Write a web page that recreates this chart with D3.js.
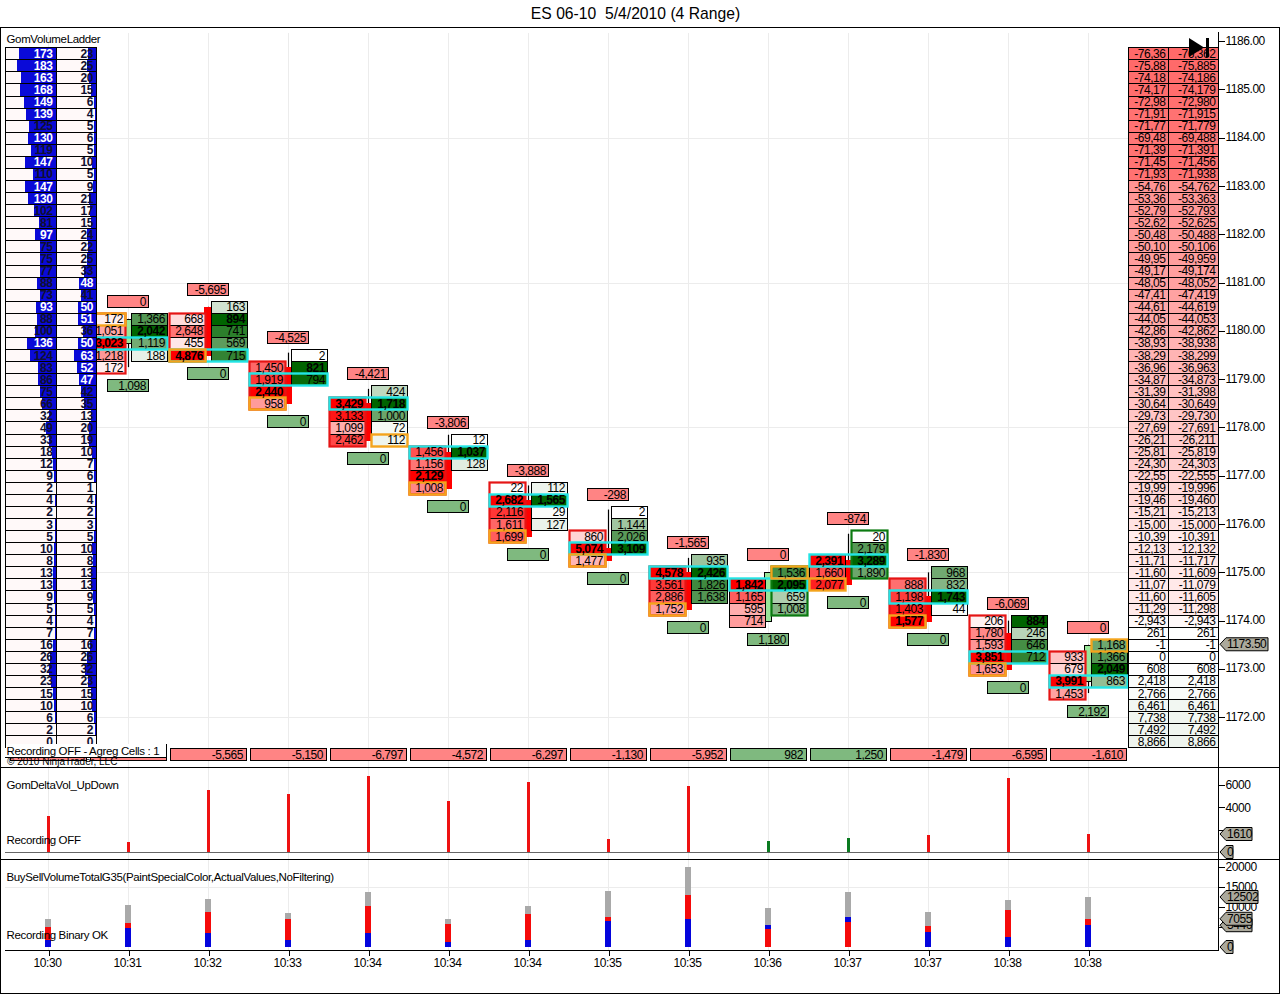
<!DOCTYPE html>
<html>
<head>
<meta charset="utf-8">
<title>ES 06-10</title>
<script src="https://cdn.jsdelivr.net/npm/d3@7"></script>
<style>
  html, body { margin: 0; padding: 0; background: #fff; }
  svg { display: block; }
  text { font-family: "Liberation Sans", Arial, sans-serif; font-size: 12px; letter-spacing: -.45px; fill: #000; }
  rect { shape-rendering: crispEdges; }
  rect.mark { shape-rendering: auto; }
  .tick line { stroke: #000; shape-rendering: crispEdges; }
  .pane-label text { font-size: 11.5px; letter-spacing: -.35px; }
</style>
</head>
<body>
<svg class="vis" width="1280" height="994"></svg>
<script>
// volume ladder, rows from 1185.75 down to 1171.50
const ladderTop = 1185.75;
const ladderBid = [173,183,163,168,149,139,125,130,119,147,110,147,130,102,81,97,75,75,77,88,73,93,88,100,136,124,83,86,75,66,32,49,33,18,12,9,2,4,2,3,5,10,8,13,13,9,5,4,7,16,26,32,23,15,10,6,2,0];
const ladderAsk = [23,25,20,15,6,4,5,6,5,10,5,9,21,17,15,24,22,25,33,48,41,50,51,36,50,63,52,47,42,35,13,20,19,10,7,6,1,4,2,3,5,10,8,13,13,9,5,4,7,16,26,32,23,15,10,6,2,0];
const ladderBidWhite = [0,1,2,3,4,5,7,9,11,12,15,21,24];
const ladderAskWhite = [19,21,22,24,25,26,27];

// cumulative delta ladder, same rows
const cumDelta = [-76362,-75885,-74186,-74179,-72980,-71915,-71779,-69488,-71391,-71456,-71938,-54762,-53363,-52793,-52625,-50488,-50106,-49959,-49174,-48052,-47419,-44619,-44053,-42862,-38938,-38299,-36963,-34873,-31398,-30649,-29730,-27691,-26211,-25819,-24303,-22555,-19996,-19460,-15213,-15000,-10391,-12132,-11717,-11609,-11079,-11605,-11298,-2943,261,-1,0,608,2418,2766,6461,7738,7492,8866];

// time axis
const timeLabels = ['10:30','10:31','10:32','10:33','10:34','10:34','10:34','10:35','10:35','10:36','10:37','10:37','10:38','10:38'];

// footprint bars, index 1..13 (bar 0 sits behind the ladder)
const barIndex = [1,2,3,4,5,6,7,8,9,10,11,12,13];
const bidTop = [1180.25,1180.25,1179.25,1178.5,1177.5,1176.75,1175.75,1175,1174.75,1175.25,1174.75,1174,1173.25];
const bidVols = [[172,1051,3023,1218,172],[668,2648,455,4876],[1450,1919,2440,958],[3429,3133,1099,2462],[1456,1156,2129,1008],[22,2682,2116,1611,1699],[860,5074,1477],[4578,3561,2886,1752],[1842,1165,595,714],[2391,1660,2077],[888,1198,1403,1577],[206,1780,1593,3851,1653],[933,679,3991,1453]];
const askTop = [1180.25,1180.5,1179.5,1178.75,1177.75,1176.75,1176.25,1175.25,1175,1175.75,1175,1174,1173.5];
const askVols = [[1366,2042,1119,188],[163,894,741,569,715],[2,821,794],[424,1718,1000,72,112],[12,1037,128],[112,1565,29,127],[2,1144,2026,3109],[935,2426,1826,1638],[1536,2095,659,1008],[20,2179,3289,1890],[968,832,1743,44],[884,246,646,712],[1168,1366,2049,863]];
const pocPrice = [1179.75,1179.5,1179,1178.5,1177.5,1176.5,1175.5,1175,1174.75,1175.25,1174.5,1173.25,1172.75];
const lastSide = ['bid','bid','bid','ask','bid','bid','bid','bid','ask','bid','bid','bid','ask'];
const lastPrice = [1180.25,1179.5,1178.5,1177.75,1176.75,1175.75,1175.25,1174.25,1175,1174.75,1174,1173,1173.5];
const opens = [1179.75,1180.5,1179.25,1178.5,1177.5,1176.5,1175.5,1175,1174,1175.25,1174.5,1173.75,1172.75];
const closes = [1180.25,1179.5,1178.5,1177.75,1176.75,1175.75,1175.25,1174.25,1175,1174.75,1174,1173,1173.5];
const highs = [1180.25,1180.5,1179.55,1178.8,1177.85,1176.8,1176.3,1175.3,1175,1175.8,1175,1174,1173.5];
const lows = [1179.25,1179.5,1178.5,1177.75,1176.75,1175.75,1175.25,1174.25,1174,1174.75,1174,1173,1172.5];
const bidOutlined = [true,true,true,true,true,true,true,true,false,false,true,true,true];
const askOutlined = [false,false,false,false,false,false,false,false,true,true,false,false,false];
const topLabels = [0,-5695,-4525,-4421,-3806,-3888,-298,-1565,0,-874,-1830,-6069,0];
const bottomLabels = [1098,0,0,0,0,0,0,0,1180,0,0,0,2192];

// per bar totals, index 0..13
const barDelta = [-3223,-927,-5565,-5150,-6797,-4572,-6297,-1130,-5952,982,1250,-1479,-6595,-1610];
const volTotal = [7000,10500,12000,8500,13750,7000,10250,14000,20000,9750,13750,8750,11750,12502];
const volSell = [5080,5900,8830,7080,10300,5750,8250,7500,13000,4500,6170,5330,9250,7055];
const volBuy = [1750,4800,3400,1750,3580,1330,1750,6420,6920,5500,7500,3750,2500,5446];

// axes
const priceTicks = [1186,1185,1184,1183,1182,1181,1180,1179,1178,1177,1176,1175,1174,1173,1172];
const priceGrid = [1184,1181,1178,1175,1172];
const deltaTicks = [2000,4000,6000];
const volTicks = [5000,10000,15000,20000];
const lastMarket = 1173.5;

const v = {

    sizes : {

        w : 1280,
        h : 994,
        axisX : 1218.5,
        paneTop : 27.5,
        pane2 : 767.5,
        pane3 : 859.5,
        bottom : 950.5,
        row : 12

    },

    colors : {

        red : '#ff0000',
        green : '#006400',
        blue : '#0a0ad8',
        cyan : '#22e4e4',
        orange : '#f4a41c',
        outlineRed : '#e51414',
        outlineGreen : '#0a7a10',
        labelRed : '#ff8484',
        labelGreen : '#7fb97f',
        tag : '#aba99c',
        grid : '#ececec',
        snow : '#fff9f9'

    },

    scales : {

        x : d3.scaleLinear().domain([0, 13]).range([48, 1088]),
        y : d3.scaleLinear().domain([1186, 1172]).range([41.2, 717.2]),
        yDelta : d3.scaleLinear().domain([0, 6000]).range([852, 785]),
        yVol : d3.scaleLinear().domain([0, 20000]).range([947, 867]),
        wBid : d3.scaleLinear().domain([0, 183]).range([0, 39]),
        wAsk : d3.scaleLinear().domain([0, 63]).range([0, 22.5]),
        fillBid : d3.scaleLinear().domain([0, 1]).range(['#ffffff', '#ff0000']),
        fillAsk : d3.scaleLinear().domain([0, 1]).range(['#ffffff', '#006400'])

    },

    // ninja prints a plain hyphen, not the d3 minus
    fmt : d3.formatLocale({ decimal : '.', thousands : ',', grouping : [3], currency : ['', ''], minus : '-' }).format(','),

    svg : d3.select('svg.vis'),

    // top edge of the row of a price, rows are not all the same pixel height
    edge : p => Math.round(v.scales.y(p) - 6.035) + .5,

    box : (g, x, y, w, h, fill, stroke, sw) => {

        return g.append('rect')
          .attr('x', x).attr('y', y)
          .attr('width', w).attr('height', h)
          .attr('fill', fill)
          .attr('stroke', stroke)
          .attr('stroke-width', sw || 1);

    },

    label : (g, x, y, txt, opts) => {

        opts = opts || {};
        return g.append('text')
          .attr('x', x).attr('y', y)
          .attr('text-anchor', opts.anchor || 'end')
          .style('font-weight', opts.bold ? 'bold' : 'normal')
          .style('fill', opts.fill || '#000')
          .style('font-size', opts.size || null)
          .style('letter-spacing', opts.spacing || null)
          .text(txt);

    },

    tag : (g, y, right, txt) => {

        const left = v.sizes.axisX + 1.5;
        g.append('path')
          .attr('d', `M${left},${y} L${left + 6},${y - 6.5} H${right} V${y + 6.5} H${left + 6} Z`)
          .attr('fill', v.colors.tag)
          .attr('stroke', '#000');
        v.label(g, left + 7, y + 4, txt, { anchor : 'start' });

    },

    draw : {

        grid : () => {

            const s = v.sizes, g = v.svg.append('g').attr('class', 'grid');

            g.selectAll('line.gx')
              .data(d3.range(14))
              .join('line')
              .attr('x1', d => v.scales.x(d) + .5).attr('x2', d => v.scales.x(d) + .5)
              .attr('y1', 33).attr('y2', s.bottom)
              .attr('stroke', v.colors.grid);

            g.selectAll('line.gy')
              .data(priceGrid)
              .join('line')
              .attr('x1', 5).attr('x2', s.axisX)
              .attr('y1', d => Math.round(v.scales.y(d)) + .5).attr('y2', d => Math.round(v.scales.y(d)) + .5)
              .attr('stroke', v.colors.grid);

            g.append('line')
              .attr('x1', 5).attr('x2', s.axisX)
              .attr('y1', v.scales.yVol(15000) + .5).attr('y2', v.scales.yVol(15000) + .5)
              .attr('stroke', v.colors.grid);

        },

        footprint : () => {

            const g = v.svg.append('g').attr('class', 'footprint');
            const sc = v.scales, c = v.colors, rh = v.sizes.row;
            const rowY = p => Math.round(sc.y(p));

            barIndex.forEach((b, i) => {

                const X = sc.x(b);
                const bx = X - 38.5, ax = X + 3.5, cw = 36;

                // candle
                g.append('line')
                  .attr('x1', X + .5).attr('x2', X + .5)
                  .attr('y1', sc.y(highs[i])).attr('y2', sc.y(lows[i]))
                  .attr('stroke', '#000').attr('stroke-width', 1.2);

                const up = closes[i] > opens[i];
                const t = rowY(Math.max(opens[i], closes[i])), bt = rowY(Math.min(opens[i], closes[i]));
                v.box(g, X - 3.5, t, 7, bt - t, up ? '#99e699' : c.red, up ? '#000' : c.red);

                // cell fills first, text goes on top of the outlines
                const texts = [];
                const cells = (top, vols, x, fill) => {
                    const mx = d3.max(vols);
                    vols.forEach((d, k) => {
                        const p = top - k * .25, y0 = v.edge(p), y1 = v.edge(p - .25);
                        v.box(g, x, y0, cw, y1 - y0, fill(d / mx), '#000');
                        texts.push([x + cw - 2.5, sc.y(p) + 4.5, v.fmt(d), d === mx]);
                    });
                };

                cells(bidTop[i], bidVols[i], bx, sc.fillBid);
                cells(askTop[i], askVols[i], ax, sc.fillAsk);

                // outlines
                const stack = (top, vols, x, col) => {
                    const y0 = v.edge(top), y1 = v.edge(top - vols.length * .25);
                    v.box(g, x, y0, cw, y1 - y0, 'none', col, 2.2).attr('class', 'mark');
                };
                if (bidOutlined[i]) stack(bidTop[i], bidVols[i], bx, c.outlineRed);
                if (askOutlined[i]) stack(askTop[i], askVols[i], ax, c.outlineGreen);

                const py0 = v.edge(pocPrice[i]), py1 = v.edge(pocPrice[i] - .25);
                v.box(g, bx, py0, ax + cw - bx, py1 - py0, 'none', c.cyan, 2.4).attr('class', 'mark');

                const ly0 = v.edge(lastPrice[i]), ly1 = v.edge(lastPrice[i] - .25);
                v.box(g, lastSide[i] === 'bid' ? bx : ax, ly0, cw, ly1 - ly0, 'none', c.orange, 2.4).attr('class', 'mark');

                texts.forEach(t => v.label(g, t[0], t[1], t[2], { bold : t[3] }));

                // top and bottom labels
                const hiRow = rowY(Math.max(bidTop[i], askTop[i]));
                const loRow = rowY(Math.min(bidTop[i] - (bidVols[i].length - 1) * .25, askTop[i] - (askVols[i].length - 1) * .25));
                const lx = X - 20.5;

                [[hiRow - 18, topLabels[i], c.labelRed], [loRow + 18, bottomLabels[i], c.labelGreen]].forEach(l => {
                    v.box(g, lx, l[0] - 5.5, 41, rh, l[2], '#000');
                    v.label(g, lx + 38.5, l[0] + 4.5, v.fmt(l[1]));
                });

            });

        },

        deltaRow : () => {

            const g = v.svg.append('g').attr('class', 'delta-row');

            barDelta.forEach((d, i) => {
                const X = v.scales.x(i);
                v.box(g, X - 37.5, 748.5, 76, 12, d < 0 ? v.colors.labelRed : v.colors.labelGreen, '#000');
                // first two totals are hidden by the recording box
                if (i > 1) v.label(g, X + 35, 758.5, v.fmt(d));
            });

        },

        ladder : () => {

            const g = v.svg.append('g').attr('class', 'ladder');
            const sc = v.scales, c = v.colors;

            ladderBid.forEach((d, i) => {

                const p = ladderTop - i * .25;
                const y0 = v.edge(p), y1 = v.edge(p - .25), h = y1 - y0;
                const wb = sc.wBid(d), wa = sc.wAsk(ladderAsk[i]);

                v.box(g, 5.5, y0, 50.5, h, c.snow, '#000');
                v.box(g, 56, y0, 40, h, c.snow, '#000');
                g.append('rect').attr('x', 56 - wb).attr('y', y0 + .5).attr('width', wb).attr('height', h - 1).attr('fill', c.blue);
                g.append('rect').attr('x', 96 - wa).attr('y', y0 + .5).attr('width', wa).attr('height', h - 1).attr('fill', c.blue);

                v.label(g, 52.5, sc.y(p) + 4.5, d, { bold : true, fill : ladderBidWhite.includes(i) ? '#fff' : '#101030' });
                v.label(g, 93, sc.y(p) + 4.5, ladderAsk[i], { bold : true, fill : ladderAskWhite.includes(i) ? '#fff' : '#101030' });

            });

        },

        cumLadder : () => {

            const g = v.svg.append('g').attr('class', 'cum-ladder');
            const sc = v.scales;
            const mix = d => d < 0 ? sc.fillBid(-d / 130000) : sc.fillAsk(d / 130000);

            cumDelta.forEach((d, i) => {

                const p = ladderTop - i * .25;
                const y0 = v.edge(p), h = v.edge(p - .25) - y0;
                const txt = v.fmt(d);

                v.box(g, 1128.5, y0, 40, h, mix(d), '#000');
                v.box(g, 1168.5, y0, 50, h, mix(d), '#000');
                v.label(g, 1165.5, sc.y(p) + 4.5, txt.slice(0, 6));
                v.label(g, 1215.5, sc.y(p) + 4.5, txt);

            });

            // end of data marker
            g.append('path').attr('d', 'M1189,38 L1204,47.5 L1189,57 Z').attr('fill', '#000');
            g.append('rect').attr('x', 1206).attr('y', 38).attr('width', 3).attr('height', 19).attr('fill', '#000');

        },

        lower : () => {

            const g = v.svg.append('g').attr('class', 'lower');
            const sc = v.scales, s = v.sizes;

            // delta pane
            g.append('line')
              .attr('x1', 5).attr('x2', s.axisX).attr('y1', 852.5).attr('y2', 852.5)
              .attr('stroke', '#666');

            g.selectAll('rect.dv')
              .data(barDelta)
              .join('rect')
              .attr('class', 'dv')
              .attr('x', (d, i) => sc.x(i) - 1)
              .attr('width', 3)
              .attr('y', d => sc.yDelta(Math.abs(d)))
              .attr('height', d => sc.yDelta(0) - sc.yDelta(Math.abs(d)))
              .attr('fill', d => d < 0 ? '#ee1111' : '#0a7a20');

            // buy sell pane
            volTotal.forEach((t, i) => {
                const X = sc.x(i) - 3;
                const parts = [[t, '#a9a9a9'], [volSell[i], '#f50a0a'], [volBuy[i], '#0404dc']]
                  .sort((a, b) => b[0] - a[0]);
                parts.forEach(p => {
                    g.append('rect')
                      .attr('x', X).attr('width', 6)
                      .attr('y', sc.yVol(p[0]))
                      .attr('height', sc.yVol(0) - sc.yVol(p[0]))
                      .attr('fill', p[1]);
                });
            });

        },

        axes : () => {

            const s = v.sizes, sc = v.scales;
            const g = v.svg.append('g').attr('class', 'axes');

            const right = (scale, vals, fmt, dy) => {
                g.append('g')
                  .attr('transform', `translate(${s.axisX},0)`)
                  .call(d3.axisRight(scale).tickValues(vals).tickFormat(fmt).tickSize(6).tickPadding(1))
                  .call(a => a.select('.domain').remove())
                  .call(a => a.selectAll('text').attr('dy', dy))
                  .attr('font-family', null).attr('font-size', null);
            };

            right(sc.y, priceTicks, d3.format('.2f'), '.25em');
            right(sc.yDelta, deltaTicks, d => d === 2000 ? '' : d, '.32em');
            right(sc.yVol, volTicks, d => d === 5000 ? '' : d, '.32em');

            g.append('g')
              .attr('transform', `translate(-1,${s.bottom})`)
              .call(d3.axisBottom(sc.x).tickValues(d3.range(14)).tickFormat(i => timeLabels[i]).tickSize(5).tickPadding(3))
              .call(a => a.select('.domain').remove())
              .call(a => a.selectAll('line').attr('x1', 1.5).attr('x2', 1.5))
              .attr('font-family', null).attr('font-size', null);

            // pane frame
            const lines = [
                [0, s.paneTop, v.sizes.w, s.paneTop],
                [0, s.pane2, v.sizes.w, s.pane2],
                [0, s.pane3, v.sizes.w, s.pane3],
                [5, s.bottom, s.axisX, s.bottom],
                [s.axisX, 32, s.axisX, s.bottom],
                [.5, s.paneTop, .5, 993.5],
                [1279.5, s.paneTop, 1279.5, 993.5],
                [0, 993.5, v.sizes.w, 993.5]
            ];
            g.selectAll('line.frame')
              .data(lines)
              .join('line')
              .attr('class', 'frame')
              .attr('x1', d => d[0]).attr('y1', d => d[1])
              .attr('x2', d => d[2]).attr('y2', d => d[3])
              .attr('stroke', '#000')
              .attr('shape-rendering', 'crispEdges');

            // price tags
            v.tag(g, sc.y(lastMarket) - .5, 1268, d3.format('.2f')(lastMarket));
            v.tag(g, 834, 1252, Math.abs(barDelta[13]));
            v.tag(g, 852, 1233, 0);
            v.tag(g, sc.yVol(volBuy[13]), 1252, volBuy[13]);
            v.tag(g, sc.yVol(volSell[13]), 1252, volSell[13]);
            v.tag(g, sc.yVol(volTotal[13]), 1258, volTotal[13]);
            v.tag(g, 947, 1233, 0);

        },

        texts : () => {

            const g = v.svg.append('g').attr('class', 'pane-label');

            v.label(g, 635.5, 18.5, 'ES 06-10  5/4/2010 (4 Range)', { anchor : 'middle', size : '15.7px', spacing : '0' }).style('white-space', 'pre');
            v.label(g, 6.5, 43, 'GomVolumeLadder', { anchor : 'start' });

            // copyright peeks out below the recording box
            v.label(g, 7, 764.5, '\u00a9 2010 NinjaTrader, LLC', { anchor : 'start', size : '10px', spacing : '0' });
            v.box(g, 5.5, 743.5, 160.5, 14, '#fff', 'none');
            g.append('path').attr('d', 'M166.5,744 V757.5 H5').attr('fill', 'none').attr('stroke', '#000');
            v.label(g, 6.5, 754.5, 'Recording OFF - Agreg Cells : 1', { anchor : 'start' });

            v.label(g, 6.5, 789, 'GomDeltaVol_UpDown', { anchor : 'start' });
            v.label(g, 6.5, 844, 'Recording OFF', { anchor : 'start' });
            v.label(g, 6.5, 881, 'BuySellVolumeTotalG35(PaintSpecialColor,ActualValues,NoFiltering)', { anchor : 'start' });
            v.label(g, 6.5, 939, 'Recording Binary OK', { anchor : 'start' });

        }

    },

    ctrl : {

        init : () => {

            v.draw.grid();
            v.draw.deltaRow();
            v.draw.footprint();
            v.draw.ladder();
            v.draw.cumLadder();
            v.draw.lower();
            v.draw.axes();
            v.draw.texts();

        }

    }

}

v.ctrl.init();
</script>
</body>
</html>
